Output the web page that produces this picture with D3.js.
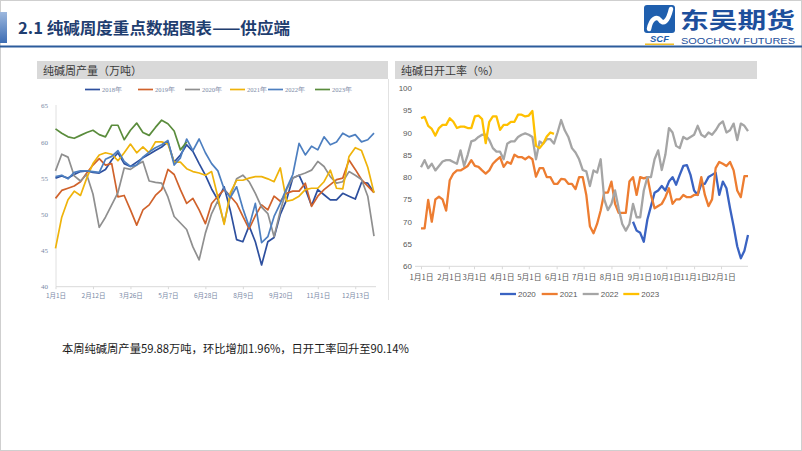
<!DOCTYPE html>
<html><head><meta charset="utf-8">
<script src="https://cdn.jsdelivr.net/npm/d3@7"></script>
<style>body{margin:0;background:#fff}svg{display:block}</style>
</head><body><svg id="c" width="802" height="451"></svg>
<script>
// ---------- DATA ----------
const pageTitle = "2.1 纯碱周度重点数据图表——供应端";
const noteText = "本周纯碱周产量59.88万吨，环比增加1.96%，日开工率回升至90.14%";

// Left chart: weekly production (万吨)
const prodTitle = "纯碱周产量（万吨）";
const prodYears = ["2018年","2019年","2020年","2021年","2022年","2023年"];
const prodTickLabels = ["1月1日","2月12日","3月26日","5月7日","6月28日","8月9日","9月20日","11月1日","12月13日"];
const prodYTicks = [40,45,50,55,60,65];
const prod2018 = [55.0,55.3,55.0,55.5,55.9,56.0,55.8,55.7,56.2,57.5,58.5,57.0,56.6,57.2,57.8,58.3,58.8,59.3,60.0,57.2,58.2,59.6,58.7,57.0,55.4,53.5,52.0,53.8,50.5,46.5,46.2,48.4,46.2,43.0,46.2,46.8,50.0,52.0,55.0,55.4,53.5,51.2,53.4,52.7,52.0,52.0,52.9,52.5,52.1,54.4,54.3,53.0];
const prod2019 = [52.2,53.3,53.6,53.9,54.5,55.7,56.8,57.7,56.8,57.0,52.4,52.6,50.6,48.5,50.6,51.3,52.6,53.4,56.2,55.5,53.4,51.5,52.2,50.6,48.7,51.5,52.5,53.4,52.5,51.5,49.7,48.0,49.8,51.3,50.6,52.5,51.8,52.9,53.2,53.2,54.3,51.1,52.5,53.4,54.1,54.8,55.0,57.5,56.2,54.8,53.9,53.0];
const prod2020 = [56.0,58.3,57.9,55.3,54.6,55.5,52.8,48.2,49.6,51.3,53.0,56.4,56.2,56.8,57.3,54.6,54.4,54.3,52.4,49.7,48.8,47.9,45.5,43.7,47.4,50.1,51.9,48.8,52.5,54.9,55.4,54.5,52.9,51.0,50.1,46.9,50.5,53.4,55.0,55.4,55.7,56.1,57.3,56.6,55.2,54.3,54.5,55.9,55.4,54.8,52.5,47.0];
const prod2021 = [45.3,49.6,52.0,53.2,52.6,55.0,57.0,58.2,58.5,58.3,57.4,58.5,59.7,58.5,59.3,58.5,60.0,60.0,59.7,57.2,57.2,56.3,55.9,55.7,55.4,55.9,52.4,48.6,53.0,54.7,54.7,55.0,55.2,55.2,54.9,54.5,56.4,51.8,52.0,52.5,53.4,53.6,53.6,54.5,56.1,53.6,53.5,58.0,59.2,58.8,56.5,53.0];
const prod2022 = [55.2,55.4,54.9,55.8,56.0,56.0,55.9,55.8,57.6,58.0,58.8,57.3,56.6,56.8,57.9,58.6,59.2,59.6,60.2,56.8,57.8,60.4,58.8,60.4,58.5,57.0,56.0,53.5,52.3,53.8,50.8,48.3,51.5,46.1,46.9,49.7,51.5,53.6,55.5,59.8,58.2,59.4,58.9,60.7,59.6,60.0,61.2,60.7,61.0,60.0,60.3,61.2];
const prod2023 = [61.8,61.2,60.7,60.5,60.9,61.3,61.6,61.0,60.7,62.3,62.3,60.3,61.6,62.6,61.3,60.9,62.0,63.0,62.5,61.5,58.9,60.0];

// Right chart: daily operating rate (%), one value every 4 days from the start date
const rateTitle = "纯碱日开工率（%）";
const rateYears = ["2020","2021","2022","2023"];
const rateStart = ["08-25","01-01","01-01","01-01"];
const rateStepDays = 4;
const rateYTicks = [60,65,70,75,80,85,90,95,100];
const rate2020 = [70,68,67.5,65.5,70.5,73.5,76.5,77,78,77,79,80,78.3,80.5,82.5,82.7,80.5,77,76,78.5,78.5,80,80.5,81,76,79,77.5,73,69,64.5,61.8,63.5,67];
const rate2021 = [68.5,68.5,74.9,70,75,75.6,75,72.5,79.3,80.8,81.5,81.5,82,82.5,83.8,82.5,82.3,81.5,80.8,81.5,83,83.8,84.5,82.3,83.4,83,85,84.5,84.5,84,84.6,84,80.1,82,82,80,80,78.5,78.5,79.6,79.5,78.5,78.5,77.3,80,80,76,69,67.4,69.5,72.5,76.5,76.5,79,74,72,72,72,79,80,76,80,79.7,80,76,73,73.5,74,75.5,77.5,74,75,75,76,75.5,75.5,76,76,80,76,73.5,75,82,83.4,83,82.5,83.4,81.5,77,75.5,80.2,80.2];
const rate2022 = [82.2,83.8,82,83,81.5,82.5,83.5,83.8,83.8,83.4,83,86,82.5,85,88,88.3,89,89.5,89.5,88.3,86.5,85.7,85.7,84,87.5,88,88,89,89.5,89.8,89.5,89,84,88,87.5,88.5,88.5,87.5,90,92.8,90.5,89,86.5,85.5,84,81.6,81.3,78,81.5,81,84,75,72.6,74,77,73,69.5,68,69.5,74,71,71,77,80,80,84,86,81.6,85,91,90,87,86.5,89,88.5,89,89.5,91.5,89.5,89,90,89.5,90.5,91.8,92.5,90,90.5,92,88.3,92,91.5,90.3];
const rate2023 = [93.2,93.5,91.5,90.8,89.3,91,91.7,91.7,93.2,92.4,91,91.3,91.3,91,91,93.6,93.8,93,87.6,92.4,93.6,93.6,90.6,91.7,91.7,92.4,92.4,94,94,93.6,93.8,94.8,87,86.5,87.5,89.1,90,89.7];

// ---------- STYLE ----------
const prodColors = ["#2d4f9e","#d0622b","#8f8f8f","#efb30a","#4d7fc0","#5a8c3c"];
const rateColors = ["#3a63c2","#ed7d31","#a5a5a5","#ffc000"];
const cjk = "'Noto Sans CJK SC','Noto Sans',sans-serif";

const svg = d3.select("#c");
svg.append("rect").attr("width",802).attr("height",451).attr("fill","#fff");
svg.append("rect").attr("x",0.5).attr("y",0.5).attr("width",801).attr("height",450)
  .attr("fill","none").attr("stroke","#cfcfcf");

// header
const defs = svg.append("defs");
const g1 = defs.append("linearGradient").attr("id","acc").attr("x1",0).attr("y1",0).attr("x2",0).attr("y2",1);
g1.append("stop").attr("offset","0%").attr("stop-color","#9db8de");
g1.append("stop").attr("offset","100%").attr("stop-color","#3d6db3");
svg.append("rect").attr("x",0).attr("y",12).attr("width",7).attr("height",31).attr("fill","url(#acc)");
svg.append("text").attr("x",18).attr("y",34).attr("font-family",cjk).attr("font-size",16)
  .attr("font-weight",700).attr("fill","#1f3e70").attr("textLength",272).attr("lengthAdjust","spacingAndGlyphs").text(pageTitle);
svg.append("line").attr("x1",0).attr("x2",802).attr("y1",46.5).attr("y2",46.5)
  .attr("stroke","#2c5c9c").attr("stroke-width",2);

// logo
const logo = svg.append("g");
logo.append("rect").attr("x",644).attr("y",5).attr("width",31).attr("height",28).attr("rx",3).attr("fill","#1f5fae");
logo.append("path").attr("d","M649,29 C651,18 657,16 660,20 C663,25 668,22 671,9")
  .attr("fill","none").attr("stroke","#fff").attr("stroke-width",4.5).attr("stroke-linecap","round");
logo.append("text").attr("x",659.5).attr("y",42).attr("text-anchor","middle").attr("font-family","'Liberation Sans',sans-serif")
  .attr("font-size",9.5).attr("font-weight",700).attr("font-style","italic").attr("fill","#1f5fae").text("SCF");
logo.append("line").attr("x1",645).attr("x2",674).attr("y1",44.2).attr("y2",44.2).attr("stroke","#f0b400").attr("stroke-width",1.3);
logo.append("text").attr("x",680).attr("y",28).attr("font-family",cjk).attr("font-size",22).attr("font-weight",700)
  .attr("fill","#1d4f9c").attr("textLength",115).attr("lengthAdjust","spacingAndGlyphs").text("东吴期货");
logo.append("text").attr("x",681).attr("y",43.5).attr("font-family","'Liberation Sans',sans-serif").attr("font-size",9.5)
  .attr("fill","#1d4f9c").attr("textLength",114).attr("lengthAdjust","spacingAndGlyphs").text("SOOCHOW FUTURES");

// panel headers
function panelHeader(x,w,label){
  svg.append("rect").attr("x",x).attr("y",61).attr("width",w).attr("height",18).attr("fill","#d9d9d9");
  svg.append("text").attr("x",x+6).attr("y",74.5).attr("font-family",cjk).attr("font-size",11)
    .attr("fill","#3a3a3a").text(label);
}
panelHeader(37,351,prodTitle);
panelHeader(395,362,rateTitle);
svg.append("line").attr("x1",388.5).attr("x2",388.5).attr("y1",79).attr("y2",300).attr("stroke","#e2e2e2");

// ---------- LEFT CHART ----------
const nW = prod2018.length;
const xL = d3.scalePoint().domain(d3.range(nW)).range([55.5,374]);
const yL = d3.scaleLinear().domain([40,65]).range([286.7,105.7]);
const serifF = "'Liberation Serif','DejaVu Serif',serif";
const left = svg.append("g");
left.append("line").attr("x1",56).attr("x2",56).attr("y1",105).attr("y2",286.7).attr("stroke","#e0e0e0");
const axL = left.append("g").attr("transform","translate(56,0)")
  .call(d3.axisLeft(yL).tickValues(prodYTicks).tickSize(0).tickPadding(8));
axL.select(".domain").remove();
axL.selectAll("text").attr("font-family",serifF).attr("font-size",7).attr("fill","#7a89a6");
const axLx = left.append("g").attr("transform","translate(0,286.7)")
  .call(d3.axisBottom(xL).tickValues(d3.range(0,nW,6).slice(0,prodTickLabels.length))
    .tickFormat((d,i)=>prodTickLabels[i]).tickSize(2.5).tickPadding(4));
axLx.select(".domain").attr("stroke","#d9d9d9").attr("d","M56,0H376");
axLx.selectAll(".tick line").attr("stroke","#d9d9d9");
axLx.selectAll("text").attr("font-family",cjk).attr("font-size",6.5).attr("fill","#7a89a6");

const prodSeries = [prod2018,prod2019,prod2020,prod2021,prod2022,prod2023];
const lineL = d3.line().x((d,i)=>xL(i)).y(d=>yL(d));
prodSeries.forEach((s,k)=>{
  left.append("path").datum(s).attr("d",lineL).attr("fill","none")
    .attr("stroke",prodColors[k]).attr("stroke-width",1.7).attr("stroke-linejoin","round");
});
// legend
const legLx = [85,138,185,230,268,315];
prodYears.forEach((n,k)=>{
  left.append("line").attr("x1",legLx[k]).attr("x2",legLx[k]+15).attr("y1",89.5).attr("y2",89.5)
    .attr("stroke",prodColors[k]).attr("stroke-width",1.7);
  left.append("text").attr("x",legLx[k]+17).attr("y",92).attr("font-family",serifF).attr("font-size",6.5)
    .attr("fill","#7a89a6").text(n);
});

// ---------- RIGHT CHART ----------
const base = new Date(2021,0,1);
const xR = d3.scaleTime().domain([base,new Date(2021,11,31)]).range([421,748]);
const yR = d3.scaleLinear().domain([60,100]).range([266.3,87.9]);
const right = svg.append("g");
const axR = right.append("g").attr("transform","translate(415,0)")
  .call(d3.axisLeft(yR).tickValues(rateYTicks).tickSize(0).tickPadding(3));
axR.select(".domain").remove();
axR.selectAll("text").attr("font-family","'Liberation Sans','Noto Sans',sans-serif").attr("font-size",8).attr("fill","#595959");
const axRx = right.append("g").attr("transform","translate(0,266.3)")
  .call(d3.axisBottom(xR).ticks(d3.timeMonth.every(1)).tickFormat(d=>(d.getMonth()+1)+"月"+d.getDate()+"日")
    .tickSize(3).tickPadding(5));
axRx.select(".domain").attr("stroke","#d9d9d9").attr("d","M415,0H748");
axRx.selectAll(".tick line").attr("stroke","#d9d9d9");
axRx.selectAll("text").attr("font-family",cjk).attr("font-size",7.8).attr("fill","#595959");

const rateSeries = [rate2020,rate2021,rate2022,rate2023];
const lineR = d3.line().x(d=>xR(d.date)).y(d=>yR(d.v)).curve(d3.curveLinear);
rateSeries.forEach((s,k)=>{
  const [m,dd] = rateStart[k].split("-").map(Number);
  const st = new Date(2021,m-1,dd);
  const pts = s.map((v,i)=>({date:d3.timeDay.offset(st,i*rateStepDays),v}))
    .filter(p=>p.date<=new Date(2021,11,31));
  right.append("path").datum(pts).attr("d",lineR).attr("fill","none")
    .attr("stroke",rateColors[k]).attr("stroke-width",2.3).attr("stroke-linejoin","round");
});
const legRx = [500,541.7,582.7,623.3];
rateYears.forEach((n,k)=>{
  right.append("line").attr("x1",legRx[k]).attr("x2",legRx[k]+16).attr("y1",294).attr("y2",294)
    .attr("stroke",rateColors[k]).attr("stroke-width",2.3);
  right.append("text").attr("x",legRx[k]+18).attr("y",297).attr("font-family","'Liberation Sans',sans-serif")
    .attr("font-size",8).attr("fill","#595959").text(n);
});

// ---------- NOTE ----------
svg.append("text").attr("x",62).attr("y",353).attr("font-family",cjk).attr("font-size",11.6)
  .attr("fill","#1a1a1a").attr("textLength",347).attr("lengthAdjust","spacingAndGlyphs").text(noteText);
</script></body></html>
